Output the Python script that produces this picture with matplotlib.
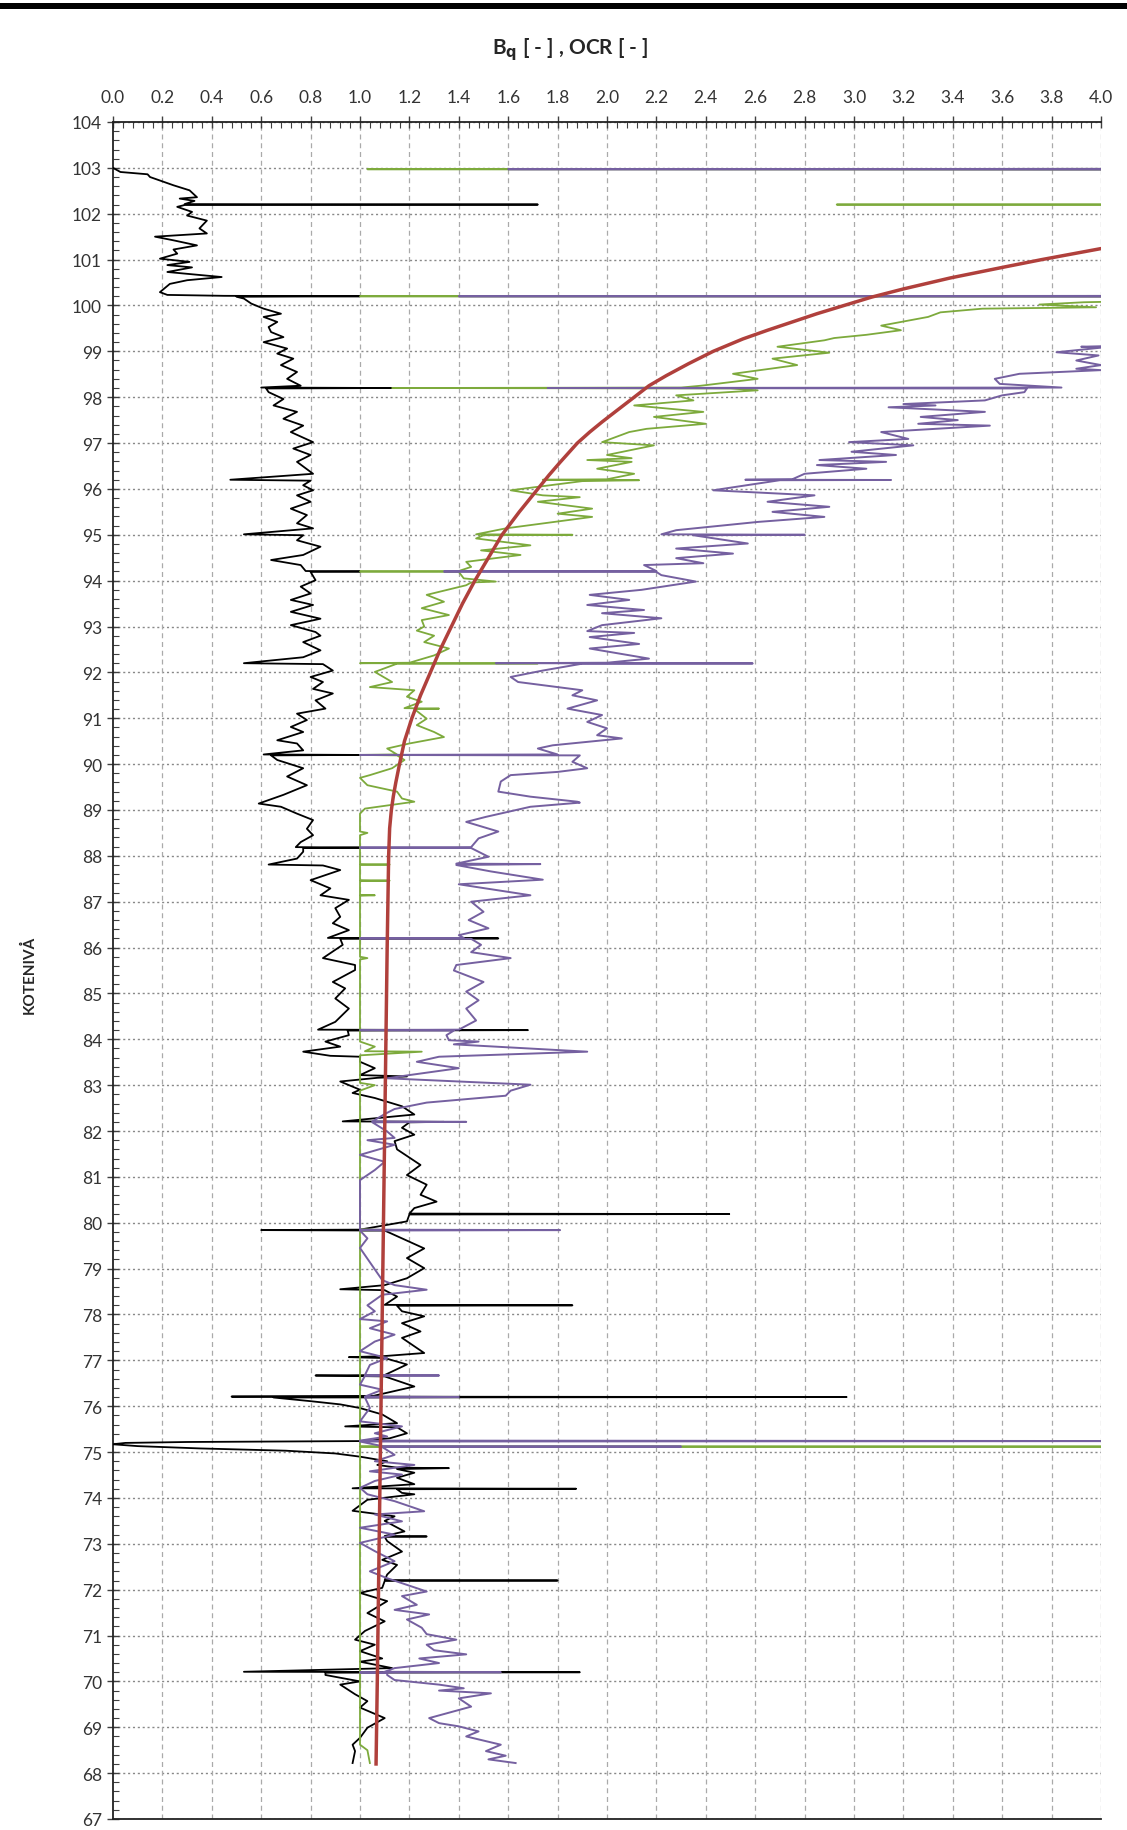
import matplotlib
matplotlib.use("Agg")
import matplotlib.pyplot as plt
from matplotlib.ticker import MultipleLocator
from matplotlib.patches import Rectangle

# Bq profile (black): elevation, value
bq_z = [103.0, 102.91, 102.86, 102.8, 102.62, 102.51, 102.36, 102.33, 102.28, 102.21, 102.2, 102.19, 102.15, 102.04,
        101.96, 101.85, 101.68, 101.57, 101.5, 101.42, 101.31, 101.22, 101.13, 101.02, 100.95, 100.88, 100.83, 100.73,
        100.62, 100.55, 100.47, 100.29, 100.23, 100.21, 100.2, 100.19, 100.15, 100.04, 99.93, 99.82, 99.75, 99.64,
        99.53, 99.42, 99.31, 99.2, 99.06, 98.95, 98.84, 98.7, 98.55, 98.4, 98.25, 98.21, 98.2, 98.19, 98.11, 97.96,
        97.82, 97.68, 97.53, 97.38, 97.24, 97.02, 96.88, 96.74, 96.59, 96.45, 96.33, 96.2, 96.18, 96.08, 95.97, 95.86,
        95.72, 95.57, 95.43, 95.25, 95.14, 95.01, 94.99, 94.88, 94.74, 94.56, 94.45, 94.34, 94.21, 94.2, 94.19, 94.01,
        93.87, 93.72, 93.58, 93.47, 93.32, 93.17, 93.03, 92.88, 92.8, 92.66, 92.48, 92.33, 92.2, 92.18, 92.04, 91.9,
        91.79, 91.64, 91.54, 91.39, 91.21, 91.1, 90.96, 90.81, 90.7, 90.52, 90.45, 90.3, 90.21, 90.2, 90.19, 90.09,
        89.91, 89.73, 89.54, 89.33, 89.14, 89.07, 88.92, 88.78, 88.59, 88.45, 88.3, 88.19, 88.18, 88.17, 88.09, 87.94,
        87.81, 87.79, 87.69, 87.47, 87.29, 87.14, 87.04, 86.86, 86.67, 86.53, 86.38, 86.21, 86.2, 86.19, 86.06, 85.77,
        85.62, 85.51, 85.25, 85.11, 84.89, 84.67, 84.38, 84.21, 84.2, 84.19, 84.09, 83.95, 83.84, 83.73, 83.64, 83.62,
        83.51, 83.37, 83.22, 83.19, 83.16, 83.08, 82.9, 82.83, 82.72, 82.54, 82.36, 82.21, 82.2, 82.19, 82.07, 81.92,
        81.78, 81.6, 81.26, 81.04, 80.83, 80.61, 80.46, 80.32, 80.2, 80.19, 80.18, 80.03, 79.85, 79.84, 79.83, 79.66,
        79.44, 79.23, 79.01, 78.79, 78.64, 78.55, 78.53, 78.39, 78.21, 78.2, 78.19, 78.07, 77.96, 77.81, 77.63, 77.49,
        77.16, 77.09, 77.07, 77.05, 76.91, 76.68, 76.67, 76.65, 76.43, 76.22, 76.21, 76.2, 76.19, 76.11, 76.04, 75.96,
        75.82, 75.63, 75.56, 75.54, 75.41, 75.3, 75.24, 75.22, 75.2, 75.17, 75.13, 75.08, 75.03, 74.97, 74.9, 74.8,
        74.72, 74.66, 74.65, 74.63, 74.55, 74.44, 74.3, 74.21, 74.2, 74.19, 74.11, 74.08, 73.96, 73.72, 73.6, 73.5,
        73.27, 73.17, 73.16, 73.15, 73.06, 72.83, 72.65, 72.54, 72.33, 72.21, 72.2, 72.19, 72.04, 71.93, 71.75, 71.49,
        71.31, 71.1, 70.91, 70.8, 70.66, 70.5, 70.43, 70.29, 70.21, 70.2, 70.19, 70.14, 70.0, 69.93, 69.72, 69.57,
        69.43, 69.2, 68.99, 68.77, 68.62, 68.48, 68.22]
bq_v = [0.0, 0.03, 0.14, 0.15, 0.245, 0.31, 0.34, 0.27, 0.33, 0.29, 1.72, 0.29, 0.26, 0.32,
        0.3, 0.38, 0.35, 0.38, 0.17, 0.245, 0.34, 0.245, 0.26, 0.19, 0.31, 0.22, 0.32, 0.22,
        0.44, 0.3, 0.23, 0.19, 0.22, 0.45, 1.0, 0.5, 0.53, 0.56, 0.61, 0.68, 0.61, 0.665,
        0.63, 0.64, 0.69, 0.61, 0.705, 0.665, 0.73, 0.68, 0.745, 0.705, 0.76, 0.6, 1.13, 0.62, 0.63, 0.69,
        0.65, 0.745, 0.69, 0.77, 0.72, 0.81, 0.73, 0.8, 0.745, 0.78, 0.81, 0.475, 0.8, 0.77, 0.81, 0.745,
        0.8, 0.72, 0.785, 0.745, 0.81, 0.53, 0.77, 0.745, 0.84, 0.77, 0.64, 0.76, 0.78, 1.0, 0.8, 0.82,
        0.76, 0.8, 0.72, 0.81, 0.72, 0.84, 0.72, 0.82, 0.84, 0.77, 0.84, 0.77, 0.53, 0.85, 0.89, 0.8,
        0.85, 0.81, 0.89, 0.82, 0.86, 0.745, 0.785, 0.72, 0.77, 0.665, 0.745, 0.77, 0.61, 1.0, 0.64, 0.665,
        0.77, 0.705, 0.785, 0.69, 0.59, 0.68, 0.745, 0.81, 0.785, 0.81, 0.76, 0.74, 1.0, 0.77, 0.77, 0.745,
        0.63, 0.85, 0.92, 0.8, 0.88, 0.84, 0.955, 0.9, 0.92, 0.89, 0.955, 0.87, 1.56, 0.92, 0.93, 0.85,
        0.98, 0.98, 0.89, 0.94, 0.9, 0.955, 0.9, 0.83, 1.68, 0.95, 0.955, 0.86, 0.92, 0.77, 0.88, 1.0,
        1.0, 1.06, 1.0, 1.19, 1.07, 0.92, 1.0, 0.97, 1.06, 1.17, 1.22, 0.93, 1.34, 1.2, 1.17, 1.22,
        1.14, 1.15, 1.245, 1.19, 1.27, 1.245, 1.31, 1.22, 1.2, 2.495, 1.2, 1.19, 1.0, 0.6, 1.1, 1.17,
        1.26, 1.19, 1.26, 1.19, 1.1, 0.92, 1.1, 1.15, 1.1, 1.86, 1.15, 1.17, 1.26, 1.17, 1.245, 1.17,
        1.26, 1.09, 0.955, 1.1, 1.19, 1.1, 0.82, 1.1, 1.22, 1.05, 0.48, 2.97, 0.65, 0.8, 0.92, 1.0,
        1.09, 1.15, 0.94, 1.15, 1.19, 1.12, 1.0, 0.3, 0.05, 0.0, 0.1, 0.35, 0.7, 0.9, 1.0, 1.11,
        1.07, 1.15, 1.36, 1.15, 1.22, 1.15, 1.22, 0.97, 1.875, 1.15, 1.17, 1.22, 1.03, 0.97, 1.14, 1.1,
        1.18, 1.1, 1.27, 1.1, 1.11, 1.17, 1.09, 1.15, 1.11, 1.1, 1.8, 1.1, 1.09, 1.0, 1.11, 1.03,
        1.1, 1.02, 0.98, 1.06, 1.0, 1.09, 1.0, 1.13, 0.53, 1.89, 0.86, 0.86, 1.0, 0.92, 0.98, 1.03,
        1.0, 1.1, 1.03, 1.0, 0.97, 0.98, 0.97]

# OCR profile 1 (green)
ocr1_z = [103.0, 102.98, 102.97, 102.96, 102.21, 102.2, 102.19, 100.21, 100.2, 100.19, 100.1, 100.07, 100.02, 99.96,
          99.93, 99.85, 99.75, 99.56, 99.46, 99.36, 99.29, 99.24, 99.1, 98.97, 98.84, 98.7, 98.51, 98.4, 98.25,
          98.21, 98.2, 98.19, 98.15, 98.04, 97.93, 97.82, 97.68, 97.57, 97.42, 97.31, 97.24, 97.02, 96.95, 96.74,
          96.67, 96.63, 96.59, 96.44, 96.33, 96.21, 96.2, 96.19, 96.17, 95.97, 95.86, 95.82, 95.72, 95.57, 95.46,
          95.39, 95.14, 95.01, 95.0, 94.99, 94.92, 94.77, 94.66, 94.56, 94.41, 94.3, 94.21, 94.2, 94.19, 94.05,
          93.98, 93.96, 93.9, 93.69, 93.54, 93.4, 93.25, 93.14, 93.0, 92.91, 92.8, 92.66, 92.52, 92.37, 92.21,
          92.2, 92.195, 92.19, 92.01, 91.79, 91.68, 91.61, 91.47, 91.36, 91.22, 91.21, 91.2, 90.99, 90.85, 90.7,
          90.59, 90.45, 90.34, 90.21, 90.2, 90.19, 90.09, 89.91, 89.76, 89.7, 89.54, 89.4, 89.25, 89.18, 89.03,
          88.92, 88.53, 88.5, 88.45, 87.82, 87.81, 87.8, 87.47, 87.46, 87.45, 87.15, 87.14, 87.13, 85.8, 85.77,
          85.74, 83.95, 83.84, 83.74, 83.73, 83.65, 83.05, 83.0, 82.88, 79.86, 79.84, 79.82, 75.13, 75.12, 75.11,
          68.62, 68.5, 68.22]
ocr1_v = [4.5, 4.5, 1.03, 4.5, 4.5, 2.93, 4.5, 4.5, 1.0, 4.5, 4.2, 3.93, 3.75, 3.98,
          3.52, 3.35, 3.3, 3.11, 3.19, 3.05, 2.92, 2.88, 2.69, 2.9, 2.67, 2.77, 2.51, 2.61, 2.38,
          2.3, 1.13, 2.5, 2.61, 2.28, 2.35, 2.11, 2.39, 2.19, 2.4, 2.16, 2.09, 1.98, 2.19, 2.0,
          2.1, 1.92, 2.1, 1.96, 2.11, 2.0, 1.74, 2.13, 1.9, 1.61, 1.74, 1.89, 1.72, 1.94, 1.8,
          1.94, 1.59, 1.47, 1.86, 1.5, 1.47, 1.69, 1.49, 1.65, 1.43, 1.45, 1.4, 1.0, 1.4, 1.42,
          1.55, 1.45, 1.43, 1.27, 1.34, 1.25, 1.36, 1.25, 1.26, 1.23, 1.3, 1.26, 1.36, 1.3, 1.2,
          1.0, 1.72, 1.15, 1.06, 1.13, 1.04, 1.22, 1.19, 1.25, 1.18, 1.32, 1.22, 1.27, 1.23, 1.3,
          1.34, 1.2, 1.11, 1.15, 1.0, 1.15, 1.18, 1.13, 1.04, 1.0, 1.03, 1.15, 1.17, 1.22, 1.02,
          1.0, 1.0, 1.03, 1.0, 1.0, 1.12, 1.0, 1.0, 1.12, 1.0, 1.0, 1.06, 1.0, 1.0, 1.03,
          1.0, 1.0, 1.06, 1.02, 1.25, 1.0, 1.0, 1.06, 1.0, 1.0, 1.1, 1.0, 1.0, 4.5, 1.0,
          1.0, 1.03, 1.04]

# OCR profile 2 (purple)
ocr2_z = [103.0, 102.98, 102.97, 102.96, 100.21, 100.2, 100.19, 99.15, 99.1, 99.08, 98.98, 98.91, 98.8, 98.7,
          98.62, 98.59, 98.51, 98.4, 98.29, 98.21, 98.2, 98.19, 98.11, 98.04, 97.93, 97.85, 97.82, 97.78, 97.68,
          97.57, 97.5, 97.42, 97.38, 97.24, 97.09, 97.02, 96.95, 96.81, 96.74, 96.63, 96.59, 96.52, 96.44, 96.33,
          96.21, 96.2, 96.195, 96.19, 95.97, 95.86, 95.72, 95.61, 95.5, 95.39, 95.28, 95.1, 95.01, 95.0, 94.99,
          94.81, 94.7, 94.59, 94.49, 94.38, 94.34, 94.21, 94.2, 94.19, 94.12, 93.98, 93.8, 93.69, 93.58, 93.47,
          93.36, 93.29, 93.18, 93.03, 92.9, 92.86, 92.77, 92.62, 92.52, 92.3, 92.21, 92.2, 92.195, 92.19, 92.04,
          91.9, 91.79, 91.61, 91.5, 91.39, 91.21, 91.07, 90.92, 90.78, 90.63, 90.56, 90.41, 90.34, 90.21, 90.2,
          90.19, 90.05, 89.91, 89.83, 89.76, 89.62, 89.4, 89.29, 89.18, 89.16, 89.07, 88.85, 88.74, 88.53, 88.38,
          88.19, 88.18, 88.17, 87.98, 87.83, 87.82, 87.8, 87.66, 87.48, 87.38, 87.14, 87.0, 86.78, 86.6, 86.42,
          86.27, 86.21, 86.2, 86.19, 86.06, 85.9, 85.77, 85.62, 85.5, 85.25, 85.04, 84.85, 84.67, 84.41, 84.21,
          84.2, 84.19, 84.09, 83.98, 83.95, 83.89, 83.73, 83.62, 83.51, 83.37, 83.22, 83.15, 83.01, 82.88, 82.77,
          82.62, 82.48, 82.37, 82.21, 82.2, 82.19, 81.99, 81.85, 81.8, 81.7, 81.48, 81.33, 81.15, 80.93, 79.85,
          79.84, 79.83, 79.66, 79.45, 78.75, 78.64, 78.54, 78.43, 78.2, 78.07, 77.9, 77.85, 77.7, 77.56, 77.41,
          77.2, 77.05, 76.9, 76.68, 76.67, 76.66, 76.47, 76.36, 76.21, 76.2, 76.19, 75.96, 75.67, 75.56, 75.41,
          75.34, 75.25, 75.24, 75.23, 75.13, 75.12, 75.11, 74.94, 74.8, 74.72, 74.58, 74.51, 74.37, 74.22, 74.08,
          73.93, 73.71, 73.64, 73.49, 73.35, 73.2, 73.02, 72.84, 72.62, 72.4, 72.25, 71.96, 71.86, 71.67, 71.56,
          71.46, 71.35, 71.17, 71.03, 70.91, 70.8, 70.68, 70.59, 70.5, 70.4, 70.29, 70.21, 70.2, 70.195, 70.19,
          70.14, 70.03, 69.93, 69.85, 69.8, 69.74, 69.63, 69.45, 69.2, 69.09, 69.02, 68.91, 68.8, 68.62, 68.48,
          68.38, 68.3, 68.22]
ocr2_v = [4.5, 4.5, 1.6, 4.5, 4.5, 1.4, 4.5, 4.3, 3.92, 4.0, 3.82, 3.99, 3.9, 4.0,
          3.9, 4.0, 3.67, 3.57, 3.59, 3.84, 1.76, 3.7, 3.69, 3.6, 3.53, 3.2, 3.33, 3.14, 3.53,
          3.27, 3.42, 3.26, 3.55, 3.11, 3.22, 2.98, 3.24, 2.99, 3.17, 2.86, 3.13, 2.85, 3.05, 2.8,
          2.75, 2.56, 3.15, 2.7, 2.43, 2.84, 2.65, 2.9, 2.67, 2.88, 2.61, 2.28, 2.22, 2.8, 2.35,
          2.57, 2.28, 2.51, 2.28, 2.39, 2.15, 2.2, 1.34, 2.2, 2.22, 2.36, 2.14, 1.93, 2.09, 1.92,
          2.15, 1.98, 2.22, 1.98, 1.92, 2.11, 1.93, 2.13, 1.93, 2.17, 2.0, 1.55, 2.59, 1.9, 1.74,
          1.61, 1.64, 1.9, 1.86, 1.96, 1.84, 1.98, 1.92, 2.0, 1.96, 2.06, 1.78, 1.72, 1.8, 1.0,
          1.89, 1.86, 1.92, 1.8, 1.61, 1.57, 1.56, 1.69, 1.88, 1.89, 1.69, 1.51, 1.43, 1.56, 1.48,
          1.45, 1.0, 1.45, 1.52, 1.39, 1.73, 1.39, 1.53, 1.74, 1.4, 1.69, 1.45, 1.5, 1.44, 1.52,
          1.4, 1.42, 1.0, 1.45, 1.49, 1.45, 1.61, 1.39, 1.38, 1.5, 1.43, 1.48, 1.43, 1.47, 1.4,
          1.0, 1.38, 1.35, 1.36, 1.48, 1.38, 1.92, 1.32, 1.23, 1.4, 1.2, 1.11, 1.69, 1.61, 1.59,
          1.27, 1.14, 1.1, 1.05, 1.43, 1.05, 1.11, 1.14, 1.03, 1.14, 1.0, 1.1, 1.06, 1.0, 1.0,
          1.81, 1.0, 1.03, 1.0, 1.09, 1.14, 1.27, 1.09, 1.03, 1.06, 1.0, 1.11, 1.04, 1.14, 1.06,
          1.0, 1.11, 1.04, 1.02, 1.32, 1.02, 1.0, 1.09, 1.02, 1.4, 1.02, 1.04, 1.0, 1.17, 1.06,
          1.11, 1.0, 4.5, 1.0, 1.09, 2.3, 1.09, 1.14, 1.06, 1.22, 1.04, 1.17, 1.06, 1.0, 1.03,
          1.14, 1.26, 1.06, 1.17, 1.0, 1.14, 1.0, 1.06, 1.14, 1.04, 1.11, 1.27, 1.17, 1.23, 1.14,
          1.28, 1.19, 1.25, 1.27, 1.39, 1.27, 1.3, 1.43, 1.24, 1.32, 1.14, 1.1, 1.57, 1.0, 1.11,
          1.11, 1.14, 1.32, 1.42, 1.32, 1.53, 1.4, 1.45, 1.28, 1.32, 1.4, 1.48, 1.43, 1.57, 1.51,
          1.59, 1.52, 1.63]

# OCR trend curve (red), read densely where it bends
red_z = [101.6, 101.24, 101.0, 100.84, 100.6, 100.36, 100.18, 100.0, 99.82, 99.64, 99.46, 99.27, 99.0, 98.73,
         98.47, 98.25, 98.0, 97.71, 97.46, 97.24, 97.0, 96.58, 96.3, 96.0, 95.5, 95.0, 94.5, 94.0, 93.5, 93.0,
         92.5, 92.0, 91.5, 91.0, 90.5, 90.0, 89.6, 89.3, 89.0, 88.6, 88.0, 86.0, 84.0, 82.0, 80.0, 78.0, 76.0,
         74.0, 72.0, 70.0, 68.2]
red_v = [4.35, 4.0, 3.76, 3.61, 3.39, 3.2, 3.07, 2.96, 2.85, 2.75, 2.65, 2.55, 2.43, 2.33,
         2.24, 2.17, 2.11, 2.04, 1.98, 1.93, 1.88, 1.81, 1.765, 1.72, 1.645, 1.575, 1.52, 1.465, 1.415, 1.37,
         1.325, 1.285, 1.245, 1.21, 1.18, 1.16, 1.145, 1.135, 1.127, 1.12, 1.116, 1.11, 1.105, 1.1, 1.095, 1.09,
         1.085, 1.08, 1.075, 1.07, 1.065]

x_ticks = [i * 0.2 for i in range(21)]
y_ticks = list(range(67, 105))

plt.rcParams['font.family'] = ['Lato', 'DejaVu Sans']

fig = plt.figure(figsize=(11.27, 18.31), dpi=100)
# header rule of the page
fig.patches.append(Rectangle((0, 1 - 10 / 1831), 1, 6 / 1831, transform=fig.transFigure,
                             facecolor="black", edgecolor="none"))

ax = fig.add_axes([113 / 1127, 1 - 1820 / 1831, 988 / 1127, 1697 / 1831])

ax.plot(bq_v, bq_z, color="black", linewidth=1.3, zorder=3)
ax.plot(ocr1_v, ocr1_z, color="#7DAA3C", linewidth=1.3, zorder=4)
ax.plot(ocr2_v, ocr2_z, color="#7560A0", linewidth=1.4, zorder=5)
ax.plot(red_v, red_z, color="#B0403C", linewidth=2.5, zorder=6)

ax.set_xlim(0, 4.0)
ax.set_ylim(67, 104)
ax.xaxis.tick_top()
ax.set_xticks(x_ticks)
ax.set_xticklabels(["%.1f" % t for t in x_ticks])
ax.xaxis.set_minor_locator(MultipleLocator(0.04))
ax.set_yticks(y_ticks)
ax.yaxis.set_minor_locator(MultipleLocator(0.2))
ax.tick_params(axis="both", which="major", direction="inout", length=8, width=1, labelsize=12.5,
               labelcolor="#333333", color="#404040", pad=4)
ax.tick_params(axis="both", which="minor", direction="in", length=4, width=0.8, color="#404040")
ax.tick_params(axis="x", which="major", pad=8)

for y in y_ticks:
    ax.axhline(y, color="#888888", linewidth=1.0, linestyle=(0, (1.5, 2)), zorder=1)
for x in x_ticks[1:]:
    ax.axvline(x, color="#AAAAAA", linewidth=0.9, linestyle=(0, (4, 3)), zorder=1)

for side in ["top", "left", "bottom"]:
    ax.spines[side].set_color("#222222")
    ax.spines[side].set_linewidth(1.3)
ax.spines["right"].set_visible(False)

fig.text(570 / 1127, 1 - 50 / 1831, "B$_\\mathbf{q}$ [ - ] , OCR [ - ]", ha="center", va="center",
         fontsize=15, fontweight="bold", color="#262626")
fig.text(29 / 1127, 1 - 975 / 1831, "KOTENIVÅ", ha="center", va="center", rotation=90,
         fontsize=11, fontweight="bold", color="#262626")

fig.savefig("out.png", dpi=100)
